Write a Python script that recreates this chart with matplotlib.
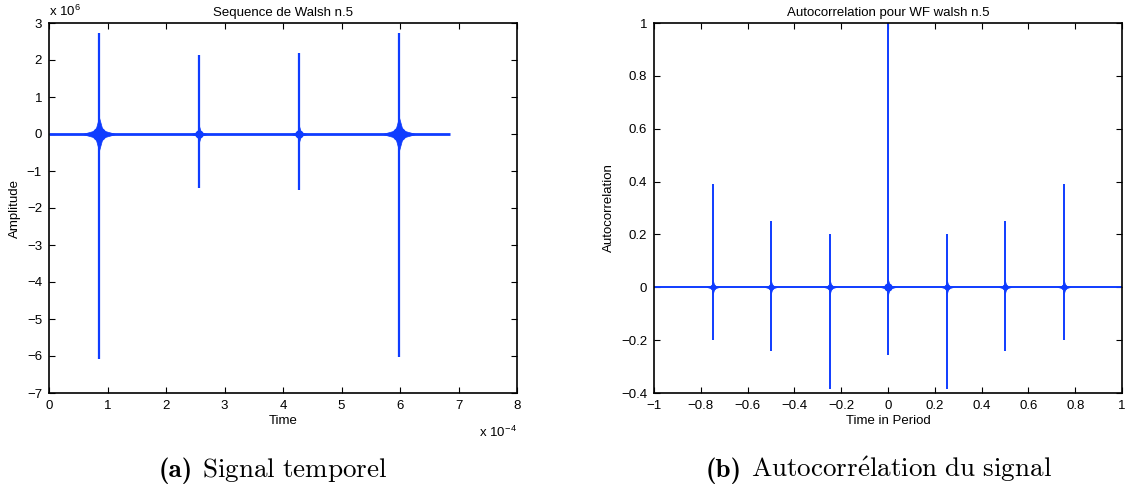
import numpy as np
import matplotlib
matplotlib.use("Agg")
import matplotlib.pyplot as plt
from matplotlib.path import Path

# --- data ---
# (a) Walsh sequence n.5 : spike times, upper / lower peak amplitudes
walsh_t = [0.85e-4, 2.56e-4, 4.27e-4, 5.98e-4]
walsh_max = [2.72e6, 2.13e6, 2.18e6, 2.72e6]
walsh_min = [-6.07e6, -1.45e6, -1.50e6, -6.03e6]
walsh_span = [0.0, 6.85e-4]          # extent of the flat signal

# (b) autocorrelation : lag (in periods), upper / lower peak values
acf_lag = [-0.75, -0.5, -0.25, 0.0, 0.25, 0.5, 0.75]
acf_max = [0.39, 0.25, 0.20, 1.00, 0.20, 0.25, 0.39]
acf_min = [-0.20, -0.24, -0.385, -0.255, -0.385, -0.24, -0.20]
acf_span = [-1.0, 1.0]

BLUE = "#0f3cff"
W, H = 1130, 491

plt.rcParams["font.family"] = ["Liberation Sans", "DejaVu Sans"]
plt.rcParams["font.size"] = 9.5
plt.rcParams["mathtext.fontset"] = "cm"

# 4-pointed star marker for the ringing blob around each spike
k = 0.22
star = Path([(1, 0), (k, k), (0, 1), (-k, k), (-1, 0),
             (-k, -k), (0, -1), (k, -k), (1, 0)],
            [Path.MOVETO] + [Path.LINETO] * 7 + [Path.CLOSEPOLY])

fig = plt.figure(figsize=(W / 100, H / 100), dpi=100)


def px_axes(x0, y0, x1, y1):
    return fig.add_axes([x0 / W, 1 - y1 / H, (x1 - x0) / W, (y1 - y0) / H])


def matlab_box(ax):
    ax.tick_params(direction="in", top=True, right=True, length=4, width=0.8,
                   labelsize=9.5, pad=5)
    for s in ax.spines.values():
        s.set_linewidth(1.2)


def blob(ax, x, star_ms, core_ms):
    ax.plot([x], [0], ls="none", marker=star, color=BLUE, mec=BLUE, mew=0.5, ms=star_ms)
    ax.plot([x], [0], ls="none", marker="o", color=BLUE, mec=BLUE, mew=0, ms=core_ms)


def fmt(v):
    return ("%g" % (v + 0.0)).replace("-", "\u2212")


# (a) temporal signal
ax1 = px_axes(49, 23, 517, 393)
ax1.plot(walsh_span, [0, 0], color=BLUE, lw=2.0, solid_capstyle="butt")
ax1.vlines(walsh_t, walsh_min, walsh_max, color=BLUE, lw=1.6)
for t, hi in zip(walsh_t, walsh_max):
    if hi > 2.5e6:
        blob(ax1, t, 24, 10)
    else:
        blob(ax1, t, 12, 6)
ax1.set_xlim(0, 8e-4)
ax1.set_ylim(-7e6, 3e6)
ax1.set_xticks(np.arange(0, 9) * 1e-4)
ax1.set_xticklabels([str(i) for i in range(9)])
ax1.set_yticks(np.arange(-7, 4) * 1e6)
ax1.set_yticklabels([fmt(i) for i in range(-7, 4)])
matlab_box(ax1)
ax1.set_title("Sequence de Walsh n.5", fontsize=9.5, pad=5)
ax1.set_xlabel("Time", labelpad=2)
ax1.set_ylabel("Amplitude", labelpad=4)
ax1.text(0, 1.012, r"x 10$^{\mathregular{6}}$", transform=ax1.transAxes,
         ha="left", va="bottom", fontsize=9.5)
ax1.text(1, -0.085, r"x 10$^{\mathregular{-4}}$", transform=ax1.transAxes,
         ha="right", va="top", fontsize=9.5)

# (b) autocorrelation
ax2 = px_axes(654, 23, 1122, 393)
ax2.plot(acf_span, [0, 0], color=BLUE, lw=1.4)
ax2.vlines(acf_lag, acf_min, acf_max, color=BLUE, lw=1.4)
for lag, hi in zip(acf_lag, acf_max):
    if hi > 0.9:
        blob(ax2, lag, 11, 6)
    else:
        blob(ax2, lag, 9, 4.5)
ax2.set_xlim(-1, 1)
ax2.set_ylim(-0.4, 1)
xt = np.round(np.arange(-1, 1.01, 0.2), 1)
ax2.set_xticks(xt)
ax2.set_xticklabels([fmt(v) for v in xt])
yt = np.round(np.arange(-0.4, 1.01, 0.2), 1)
ax2.set_yticks(yt)
ax2.set_yticklabels([fmt(v) for v in yt])
matlab_box(ax2)
ax2.set_title("Autocorrelation pour WF walsh n.5", fontsize=9.5, pad=5)
ax2.set_xlabel("Time in Period", labelpad=2)
ax2.set_ylabel("Autocorrelation", labelpad=4)

# captions (LaTeX-style subcaptions): bold tag + roman body
captions = [(197, "(a)", r"$\mathrm{Signal\ temporel}$"),
            (746, "(b)", r"$\mathrm{Autocorr\acute{e}lation\ du\ signal}$")]
for sx, tag, body in captions:
    fig.text((sx - 4) / W, 1 - 477 / H, tag, fontfamily="cmb10", fontsize=19.5,
             ha="right", va="baseline")
    fig.text((sx + 5) / W, 1 - 477 / H, body, fontsize=19.5,
             ha="left", va="baseline")

fig.savefig("out.png", dpi=100)
